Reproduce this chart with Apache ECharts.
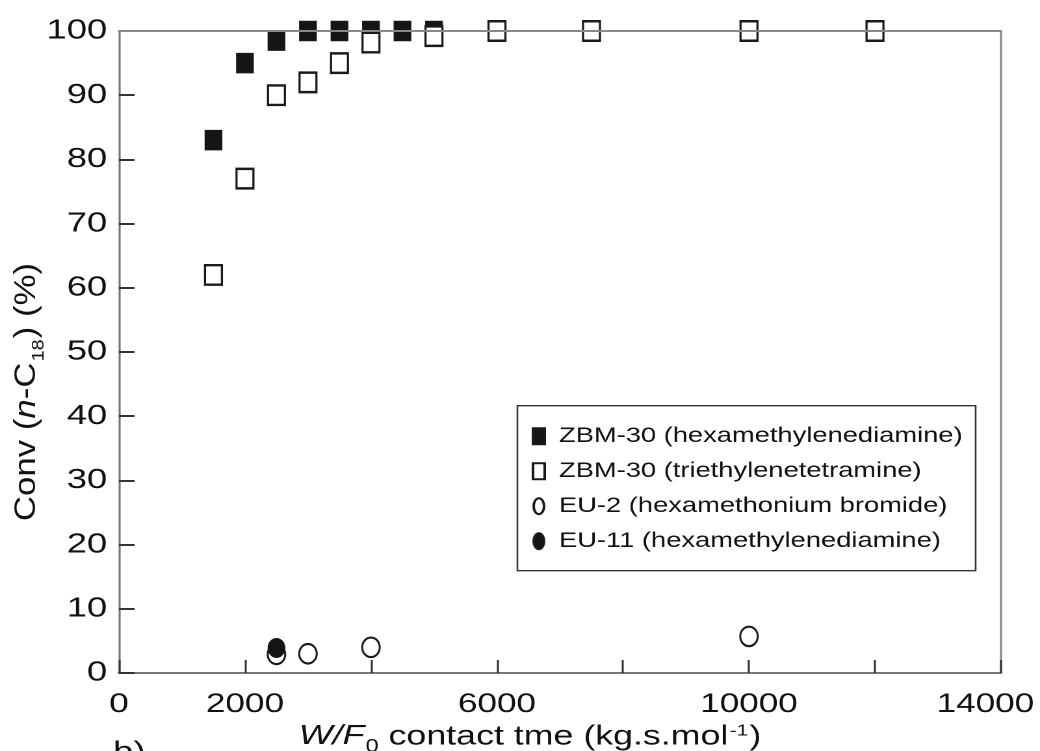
<!DOCTYPE html>
<html>
<head>
<meta charset="utf-8">
<script src="https://cdn.jsdelivr.net/npm/echarts@6/dist/echarts.min.js"></script>
<style>
  html, body { margin: 0; padding: 0; background: #fff; overflow: hidden; }
  #main { width: 800px; height: 751px; transform: scaleX(1.3); transform-origin: 0 0; }
</style>
</head>
<body>
<div id="main"></div>
<script>
// ---- data ----
const zbmHexaX = [1500, 2000, 2500, 3000, 3500, 4000, 4500, 5000];
const zbmHexaY = [83, 95, 98.5, 100, 100, 100, 100, 100];

const zbmTrieX = [1500, 2000, 2500, 3000, 3500, 4000, 5000, 6000, 7500, 10000, 12000];
const zbmTrieY = [62, 77, 90, 92, 95, 98.2, 99.2, 100, 100, 100, 100];

const eu2X = [2500, 3000, 4000, 10000];
const eu2Y = [2.9, 3.0, 4.0, 5.7];

const eu11X = [2500];
const eu11Y = [3.9];

const seriesNames = [
  'ZBM-30 (hexamethylenediamine)',
  'ZBM-30 (triethylenetetramine)',
  'EU-2 (hexamethonium bromide)',
  'EU-11 (hexamethylenediamine)'
];

const xLabelValues = [0, 2000, 6000, 10000, 14000];
const yTickLabels = [0, 10, 20, 30, 40, 50, 60, 70, 80, 90, 100];

const FONT = "'Liberation Sans', Arial, Helvetica, sans-serif";
const TXT = '#111111';
const ELLIPSE = 'path://M0,10 A5,10 0 1,1 10,10 A5,10 0 1,1 0,10 Z';

function zip(xs, ys) { return xs.map((x, i) => [x, ys[i]]); }

const chart = echarts.init(document.getElementById('main'), null, { renderer: 'canvas', devicePixelRatio: 2 });

const option = {
  animation: false,
  backgroundColor: '#ffffff',
  textStyle: { fontFamily: FONT },
  grid: { left: 91.5, right: 30, top: 31, bottom: 78, containLabel: false, outerBoundsMode: 'none' },
  legend: {
    orient: 'vertical',
    left: 398,
    top: 405.7,
    padding: [20, 10, 19, 11],
    itemWidth: 9,
    itemHeight: 16,
    itemGap: 14,
    backgroundColor: '#ffffff',
    borderColor: '#333333',
    borderWidth: 1.3,
    selectedMode: false,
    data: [
      { name: seriesNames[0], icon: 'rect' },
      { name: seriesNames[1], icon: 'rect' },
      { name: seriesNames[2], icon: ELLIPSE },
      { name: seriesNames[3], icon: ELLIPSE }
    ],
    textStyle: { fontFamily: FONT, fontSize: 21, lineHeight: 21, color: TXT, padding: [0, 0, 0, 6] }
  },
  xAxis: [
    {
      type: 'value', position: 'bottom', min: 0, max: 14000, interval: 2000,
      axisLine: { show: true, onZero: false, lineStyle: { color: '#777777', width: 2 } },
      axisTick: { show: true, inside: true, length: 13, lineStyle: { color: '#333', width: 1.5 } },
      splitLine: { show: false },
      axisLabel: {
        show: true, margin: 18, fontFamily: FONT, fontSize: 27, color: TXT,
        formatter: function (v) {
          if (v === 14000) return '{r|14000}';
          return xLabelValues.indexOf(v) >= 0 ? String(v) : '';
        },
        rich: { r: { fontFamily: FONT, fontSize: 27, color: TXT, padding: [0, 24, 0, 0] } }
      },
      name: '{i|W/F}{s|0}{t| contact tme (kg.s.mol}{p|-1}{t|)}',
      nameLocation: 'middle',
      nameGap: 45,
      nameTextStyle: {
        color: TXT, fontFamily: FONT, fontSize: 27.5,
        padding: [0, 46, 0, 0],
        rich: {
          i: { fontFamily: FONT, fontSize: 27.5, lineHeight: 28, fontStyle: 'italic', color: TXT, verticalAlign: 'top' },
          t: { fontFamily: FONT, fontSize: 27.5, lineHeight: 28, color: TXT, verticalAlign: 'top' },
          s: { fontFamily: FONT, fontSize: 18, lineHeight: 18, color: TXT, verticalAlign: 'top', padding: [15, 0, 0, 1] },
          p: { fontFamily: FONT, fontSize: 16, lineHeight: 16, color: TXT, verticalAlign: 'top', padding: [0, 1, 0, 1] }
        }
      }
    },
    {
      type: 'value', position: 'top', min: 0, max: 14000, interval: 2000, z: 5,
      axisLine: { show: true, onZero: false, lineStyle: { color: '#888888', width: 2 } },
      axisTick: { show: false }, axisLabel: { show: false }, splitLine: { show: false }
    }
  ],
  yAxis: [
    {
      type: 'value', position: 'left', min: 0, max: 100, interval: 10,
      axisLine: { show: true, onZero: false, lineStyle: { color: '#777777', width: 1.6 } },
      axisTick: { show: true, inside: true, length: 12, lineStyle: { color: '#333', width: 2 } },
      splitLine: { show: false },
      axisLabel: {
        show: true, margin: 9, fontFamily: FONT, fontSize: 28, color: TXT,
        formatter: function (v) { return yTickLabels.indexOf(v) >= 0 ? String(v) : ''; }
      }
    },
    {
      type: 'value', position: 'right', min: 0, max: 100, interval: 10,
      axisLine: { show: true, onZero: false, lineStyle: { color: '#888888', width: 1.6 } },
      axisTick: { show: false }, axisLabel: { show: false }, splitLine: { show: false }
    }
  ],
  graphic: [
    {
      type: 'text',
      x: 20.8, y: 392,
      rotation: Math.PI / 2,
      scaleX: 1.16, scaleY: 1 / 1.3,
      silent: true,
      style: {
        text: '{t|Conv (}{i|n}{t|-C}{s|18}{t|) (%)}',
        align: 'center', verticalAlign: 'middle',
        fill: TXT,
        rich: {
          t: { fontFamily: FONT, fontSize: 30, lineHeight: 30, fill: TXT, verticalAlign: 'top' },
          i: { fontFamily: FONT, fontSize: 30, lineHeight: 30, fontStyle: 'italic', fill: TXT, verticalAlign: 'top' },
          s: { fontFamily: FONT, fontSize: 17, lineHeight: 17, fill: TXT, verticalAlign: 'top', padding: [18, 1, 0, 1] }
        }
      }
    },
    {
      type: 'text',
      x: 87, y: 739,
      silent: true,
      style: { text: 'b)', fontFamily: FONT, fontSize: 28, fill: TXT, align: 'left', verticalAlign: 'top' }
    }
  ],
  series: [
    {
      name: seriesNames[0], type: 'scatter', xAxisIndex: 0, yAxisIndex: 0,
      symbol: 'rect', symbolSize: [13, 19.5],
      itemStyle: { color: '#151515', borderColor: '#1a1a1a', borderWidth: 0.8, opacity: 1 },
      emphasis: { disabled: true },
      data: zip(zbmHexaX, zbmHexaY)
    },
    {
      name: seriesNames[1], type: 'scatter', xAxisIndex: 0, yAxisIndex: 0,
      symbol: 'rect', symbolSize: [13, 19.5],
      itemStyle: { color: '#ffffff', borderColor: '#1a1a1a', borderWidth: 2, opacity: 1 },
      emphasis: { disabled: true },
      data: zip(zbmTrieX, zbmTrieY)
    },
    {
      name: seriesNames[2], type: 'scatter', xAxisIndex: 0, yAxisIndex: 0,
      symbol: 'circle', symbolSize: [13.5, 19.5],
      itemStyle: { color: '#ffffff', borderColor: '#1a1a1a', borderWidth: 1.8, opacity: 1 },
      emphasis: { disabled: true },
      data: zip(eu2X, eu2Y)
    },
    {
      name: seriesNames[3], type: 'scatter', xAxisIndex: 0, yAxisIndex: 0,
      symbol: 'circle', symbolSize: [13, 19],
      itemStyle: { color: '#151515', borderColor: '#1a1a1a', borderWidth: 0.8, opacity: 1 },
      emphasis: { disabled: true },
      data: zip(eu11X, eu11Y)
    }
  ]
};

chart.setOption(option);
</script>
</body>
</html>
